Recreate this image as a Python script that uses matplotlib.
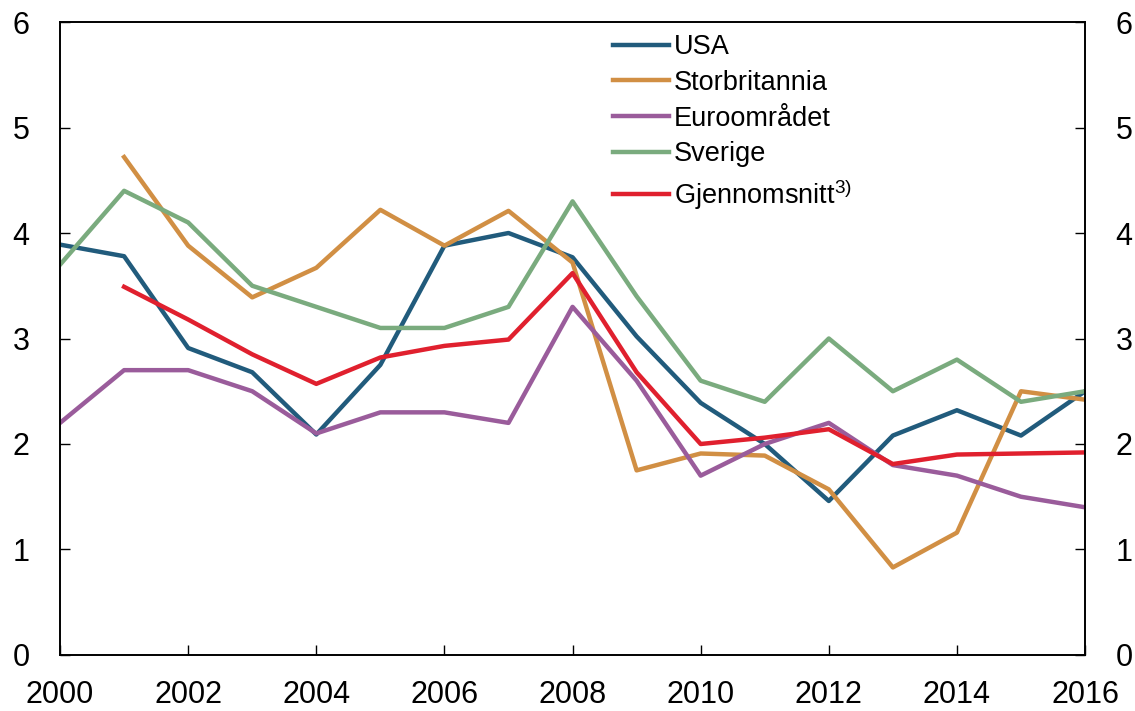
import matplotlib
matplotlib.use("Agg")
import matplotlib.pyplot as plt

plt.rcParams["font.family"] = ["Liberation Sans", "DejaVu Sans"]
plt.rcParams["mathtext.fontset"] = "custom"
plt.rcParams["mathtext.rm"] = "Liberation Sans"
plt.rcParams["mathtext.it"] = "Liberation Sans"

years = list(range(2000, 2017))
years_avg = list(range(2001, 2017))

usa = [3.89, 3.78, 2.91, 2.68, 2.09, 2.75, 3.88, 4.00, 3.77, 3.02, 2.39, 2.00,
       1.46, 2.08, 2.32, 2.08, 2.50]
storbritannia = [4.72, 3.88, 3.39, 3.67, 4.22, 3.88, 4.21, 3.72, 1.75, 1.91,
                 1.89, 1.57, 0.83, 1.16, 2.50, 2.42]
euro = [2.2, 2.7, 2.7, 2.5, 2.1, 2.3, 2.3, 2.2, 3.3, 2.6, 1.7, 2.0, 2.2, 1.8,
        1.7, 1.5, 1.4]
sverige = [3.7, 4.4, 4.1, 3.5, 3.3, 3.1, 3.1, 3.3, 4.3, 3.4, 2.6, 2.4, 3.0, 2.5,
           2.8, 2.4, 2.5]
snitt = [3.49, 3.18, 2.85, 2.57, 2.82, 2.93, 2.99, 3.62, 2.68, 2.00, 2.06, 2.14,
         1.81, 1.90, 1.91, 1.92]

fig = plt.figure(figsize=(11.35, 7.11), dpi=100)
ax = fig.add_axes([0.0529, 0.0788, 0.9031, 0.8902])

lw = 3.2
ax.plot(years, usa, color="#215b7c", lw=lw, label="USA")
ax.plot(years_avg, storbritannia, color="#d18f44", lw=lw, label="Storbritannia")
ax.plot(years, euro, color="#9a5c9b", lw=lw, label="Euroområdet")
ax.plot(years, sverige, color="#7aab7e", lw=lw, label="Sverige")
ax.plot(years_avg, snitt, color="#e0202e", lw=lw, label="Gjennomsnitt$^{3)}$")

ax.set_xlim(2000, 2016)
ax.set_ylim(0, 6)
ax.set_xticks(range(2000, 2017, 2))
ax.set_yticks(range(0, 7))
ax.tick_params(axis="both", direction="in", length=7, width=1, labelsize=22)
ax.tick_params(axis="x", pad=18)
ax.tick_params(axis="y", pad=22)

ax2 = ax.twinx()
ax2.set_ylim(0, 6)
ax2.set_yticks(range(0, 7))
ax2.tick_params(axis="y", direction="in", length=7, width=1, labelsize=22, pad=22)

for a in (ax, ax2):
    for s in a.spines.values():
        s.set_linewidth(1.2)

ax.legend(loc="upper left", bbox_to_anchor=(0.529, 0.998), frameon=False,
          fontsize=19.5, handlelength=2.05, handletextpad=0.2, labelspacing=0.36,
          borderaxespad=0)

fig.savefig("out.png", dpi=100)
